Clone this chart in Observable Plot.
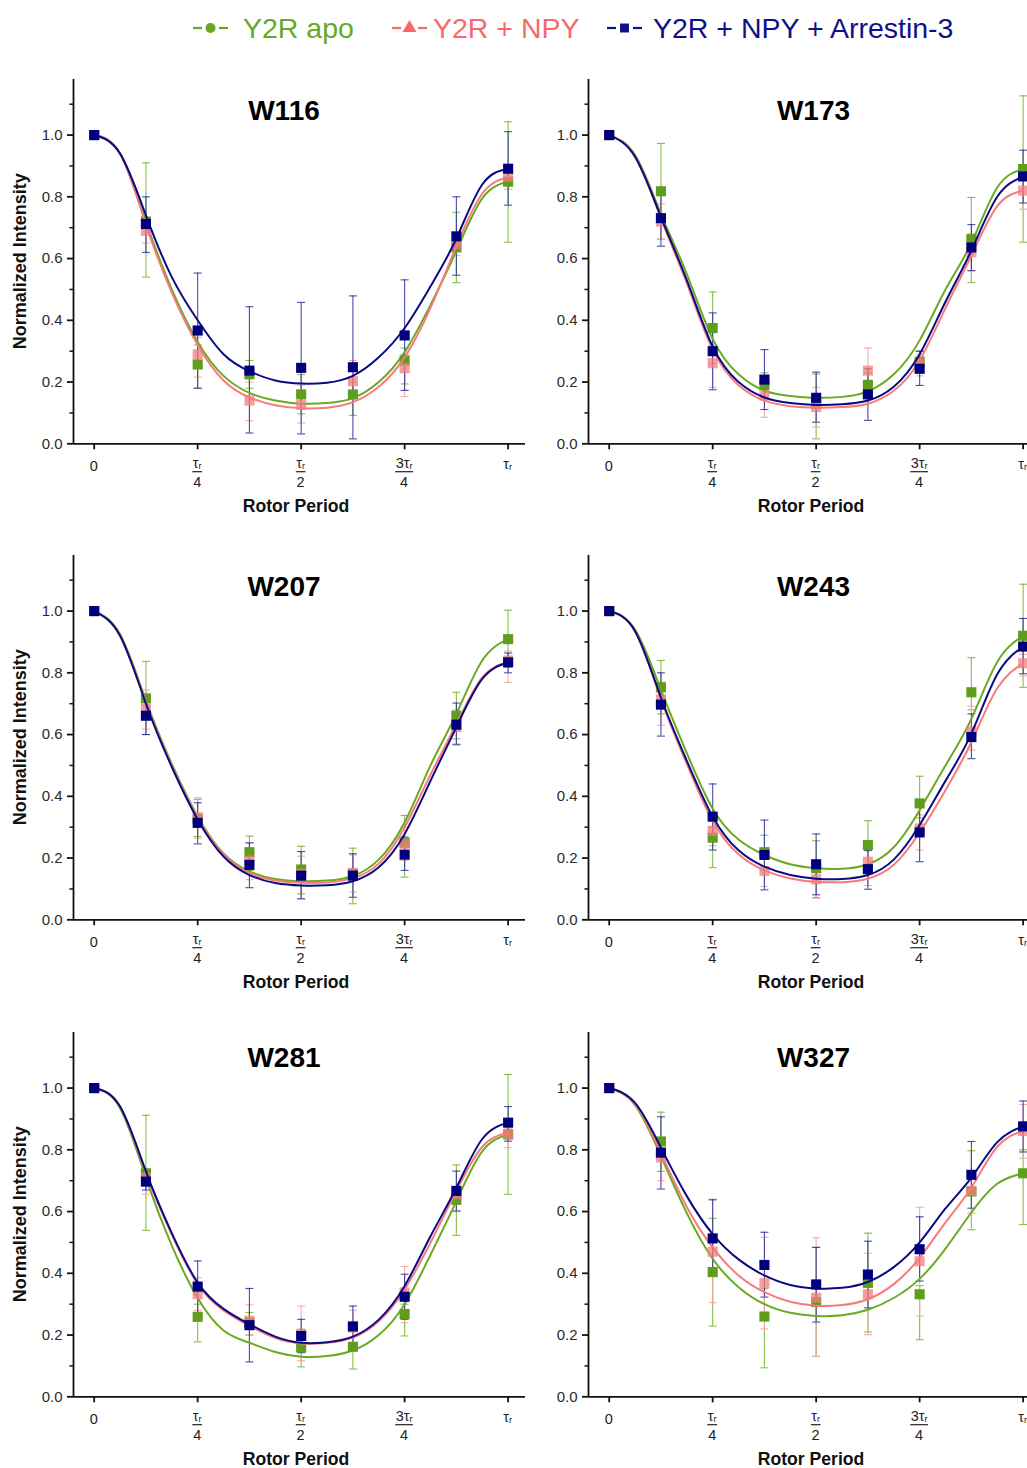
<!DOCTYPE html>
<html><head><meta charset="utf-8">
<script src="https://cdn.jsdelivr.net/npm/d3@7"></script>
<script src="https://cdn.jsdelivr.net/npm/@observablehq/plot@0.6"></script>
<style>
html,body{margin:0;padding:0;background:#fff}
body{width:1027px;height:1468px;overflow:hidden;position:relative;font-family:"Liberation Sans",Arial,sans-serif}
.panel{position:absolute}
#legend{position:absolute;left:0;top:0}
</style></head><body>
<div id="legend"></div>
<div id="chart"></div>
<script>
// ---------- shared categories / ticks ----------
const seriesNames = ["Y2R apo", "Y2R + NPY", "Y2R + NPY + Arrestin-3"];
const panelNames = ["W116", "W173", "W207", "W243", "W281", "W327"];
const xPts = [0, 0.125, 0.25, 0.375, 0.5, 0.625, 0.75, 0.875, 1];
const xFit = [0, 0.0625, 0.125, 0.1875, 0.25, 0.3125, 0.375, 0.4375, 0.5, 0.5625, 0.625, 0.6875, 0.75, 0.8125, 0.875, 0.9375, 1];
const xTicks = [0, 0.25, 0.5, 0.75, 1];
const xTickNum = ["0", "τr", "τr", "3τr", "τr"];
const xTickDen = ["", "4", "2", "4", ""];
const yMajor = [0, 0.2, 0.4, 0.6, 0.8, 1.0];
const yMinor = [0.1, 0.3, 0.5, 0.7, 0.9, 1.1];
const xLabel = "Rotor Period";
const yLabel = "Normalized Intensity";

// ---------- data: rows = [apo, +NPY, +NPY+Arrestin-3] ----------
const W116_val = [[1, 0.72, 0.257, 0.225, 0.16, 0.16, 0.27, 0.636, 0.849],
                  [1, 0.69, 0.29, 0.14, 0.126, 0.203, 0.245, 0.647, 0.865],
                  [1, 0.712, 0.367, 0.237, 0.246, 0.248, 0.351, 0.672, 0.891]];
const W116_hi  = [[1, 0.91, 0.32, 0.27, 0.224, 0.20, 0.31, 0.75, 1.043],
                  [1, 0.73, 0.345, 0.2, 0.19, 0.27, 0.29, 0.68, 0.895],
                  [1, 0.80, 0.553, 0.444, 0.458, 0.479, 0.531, 0.80, 1.011]];
const W116_lo  = [[1, 0.54, 0.18, 0.18, 0.097, 0.092, 0.194, 0.522, 0.653],
                  [1, 0.65, 0.216, 0.075, 0.067, 0.146, 0.153, 0.61, 0.825],
                  [1, 0.62, 0.18, 0.035, 0.032, 0.016, 0.173, 0.546, 0.773]];
const W116_fit = [[1, 0.94, 0.72, 0.50, 0.33, 0.22, 0.165, 0.14, 0.13, 0.132, 0.148, 0.2, 0.297, 0.45, 0.625, 0.795, 0.85],
                  [1, 0.94, 0.71, 0.49, 0.32, 0.205, 0.15, 0.125, 0.115, 0.117, 0.135, 0.185, 0.28, 0.44, 0.64, 0.81, 0.865],
                  [1, 0.94, 0.74, 0.54, 0.40, 0.29, 0.235, 0.205, 0.195, 0.198, 0.22, 0.28, 0.375, 0.51, 0.665, 0.84, 0.89]];

const W173_val = [[1, 0.818, 0.375, 0.19, 0.13, 0.191, 0.266, 0.663, 0.89],
                  [1, 0.72, 0.261, 0.156, 0.119, 0.237, 0.26, 0.62, 0.82],
                  [1, 0.731, 0.30, 0.208, 0.149, 0.16, 0.243, 0.636, 0.866]];
const W173_hi  = [[1, 0.973, 0.492, 0.23, 0.226, 0.23, 0.30, 0.798, 1.127],
                  [1, 0.777, 0.32, 0.2, 0.183, 0.31, 0.29, 0.68, 0.86],
                  [1, 0.825, 0.424, 0.305, 0.232, 0.243, 0.30, 0.71, 0.951]];
const W173_lo  = [[1, 0.663, 0.26, 0.15, 0.016, 0.15, 0.23, 0.522, 0.653],
                  [1, 0.663, 0.183, 0.086, 0.054, 0.167, 0.22, 0.56, 0.76],
                  [1, 0.64, 0.175, 0.111, 0.07, 0.076, 0.189, 0.561, 0.78]];
const W173_fit = [[1, 0.935, 0.745, 0.55, 0.34, 0.225, 0.172, 0.155, 0.149, 0.152, 0.17, 0.225, 0.335, 0.50, 0.65, 0.83, 0.89],
                  [1, 0.93, 0.73, 0.52, 0.305, 0.19, 0.14, 0.122, 0.117, 0.119, 0.13, 0.172, 0.27, 0.44, 0.61, 0.77, 0.82],
                  [1, 0.93, 0.735, 0.53, 0.315, 0.20, 0.15, 0.132, 0.126, 0.128, 0.14, 0.185, 0.29, 0.46, 0.626, 0.80, 0.866]];

const W207_val = [[1, 0.717, 0.327, 0.219, 0.163, 0.149, 0.25, 0.661, 0.909],
                  [1, 0.683, 0.332, 0.192, 0.149, 0.152, 0.246, 0.624, 0.84],
                  [1, 0.661, 0.314, 0.178, 0.143, 0.143, 0.211, 0.632, 0.834]];
const W207_hi  = [[1, 0.837, 0.39, 0.271, 0.238, 0.232, 0.338, 0.737, 1.003],
                  [1, 0.745, 0.395, 0.25, 0.206, 0.21, 0.30, 0.68, 0.87],
                  [1, 0.717, 0.379, 0.249, 0.221, 0.214, 0.268, 0.702, 0.864]];
const W207_lo  = [[1, 0.60, 0.27, 0.16, 0.084, 0.052, 0.138, 0.586, 0.818],
                  [1, 0.618, 0.264, 0.13, 0.068, 0.09, 0.192, 0.57, 0.769],
                  [1, 0.60, 0.246, 0.104, 0.068, 0.073, 0.16, 0.567, 0.80]];
const W207_fit = [[1, 0.925, 0.71, 0.505, 0.335, 0.215, 0.157, 0.132, 0.125, 0.127, 0.142, 0.195, 0.316, 0.50, 0.667, 0.84, 0.909],
                  [1, 0.92, 0.705, 0.50, 0.33, 0.212, 0.152, 0.127, 0.12, 0.121, 0.135, 0.182, 0.30, 0.47, 0.634, 0.785, 0.834],
                  [1, 0.92, 0.70, 0.495, 0.325, 0.205, 0.145, 0.119, 0.111, 0.112, 0.125, 0.17, 0.278, 0.45, 0.624, 0.78, 0.834]];

const W243_val = [[1, 0.753, 0.266, 0.219, 0.167, 0.242, 0.377, 0.737, 0.92],
                  [1, 0.714, 0.288, 0.158, 0.131, 0.188, 0.296, 0.611, 0.831],
                  [1, 0.697, 0.334, 0.21, 0.18, 0.164, 0.283, 0.592, 0.885]];
const W243_hi  = [[1, 0.84, 0.30, 0.274, 0.256, 0.321, 0.465, 0.849, 1.087],
                  [1, 0.77, 0.33, 0.2, 0.16, 0.23, 0.34, 0.692, 0.86],
                  [1, 0.80, 0.44, 0.323, 0.278, 0.224, 0.377, 0.667, 0.976]];
const W243_lo  = [[1, 0.667, 0.169, 0.16, 0.072, 0.17, 0.33, 0.68, 0.753],
                  [1, 0.63, 0.24, 0.108, 0.07, 0.111, 0.226, 0.55, 0.79],
                  [1, 0.595, 0.226, 0.097, 0.081, 0.099, 0.188, 0.522, 0.797]];
const W243_fit = [[1, 0.94, 0.745, 0.54, 0.36, 0.26, 0.21, 0.18, 0.167, 0.165, 0.18, 0.235, 0.355, 0.50, 0.651, 0.835, 0.92],
                  [1, 0.935, 0.715, 0.505, 0.32, 0.212, 0.16, 0.134, 0.123, 0.122, 0.133, 0.178, 0.283, 0.42, 0.576, 0.75, 0.831],
                  [1, 0.935, 0.72, 0.515, 0.334, 0.225, 0.172, 0.145, 0.133, 0.132, 0.145, 0.195, 0.307, 0.45, 0.603, 0.795, 0.885]];

const W281_val = [[1, 0.724, 0.259, 0.24, 0.16, 0.162, 0.268, 0.638, 0.85],
                  [1, 0.71, 0.332, 0.246, 0.203, 0.224, 0.338, 0.656, 0.85],
                  [1, 0.697, 0.357, 0.232, 0.197, 0.228, 0.324, 0.667, 0.888]];
const W281_hi  = [[1, 0.912, 0.30, 0.273, 0.219, 0.173, 0.30, 0.751, 1.044],
                  [1, 0.73, 0.386, 0.298, 0.294, 0.28, 0.422, 0.68, 0.87],
                  [1, 0.72, 0.44, 0.351, 0.251, 0.294, 0.397, 0.731, 0.94]];
const W281_lo  = [[1, 0.539, 0.178, 0.20, 0.097, 0.09, 0.197, 0.523, 0.656],
                  [1, 0.656, 0.28, 0.20, 0.117, 0.17, 0.24, 0.60, 0.807],
                  [1, 0.67, 0.273, 0.113, 0.143, 0.156, 0.251, 0.602, 0.828]];
const W281_fit = [[1, 0.935, 0.71, 0.49, 0.32, 0.215, 0.175, 0.145, 0.13, 0.132, 0.15, 0.2, 0.30, 0.46, 0.634, 0.795, 0.85],
                  [1, 0.94, 0.725, 0.525, 0.365, 0.28, 0.23, 0.19, 0.173, 0.175, 0.192, 0.245, 0.348, 0.50, 0.667, 0.81, 0.855],
                  [1, 0.94, 0.73, 0.53, 0.37, 0.285, 0.235, 0.195, 0.175, 0.177, 0.195, 0.25, 0.359, 0.52, 0.677, 0.835, 0.888]];

const W327_val = [[1, 0.827, 0.404, 0.26, 0.307, 0.369, 0.332, 0.665, 0.724],
                  [1, 0.775, 0.47, 0.368, 0.321, 0.332, 0.439, 0.667, 0.861],
                  [1, 0.791, 0.513, 0.427, 0.364, 0.396, 0.478, 0.719, 0.876]];
const W327_hi  = [[1, 0.922, 0.578, 0.35, 0.484, 0.53, 0.36, 0.797, 0.80],
                  [1, 0.84, 0.64, 0.517, 0.515, 0.465, 0.614, 0.72, 0.947],
                  [1, 0.907, 0.638, 0.533, 0.484, 0.504, 0.583, 0.827, 0.958]];
const W327_lo  = [[1, 0.73, 0.229, 0.094, 0.131, 0.21, 0.185, 0.541, 0.558],
                  [1, 0.70, 0.305, 0.22, 0.131, 0.201, 0.262, 0.595, 0.773],
                  [1, 0.673, 0.39, 0.323, 0.242, 0.288, 0.375, 0.611, 0.793]];
const W327_fit = [[1, 0.945, 0.78, 0.595, 0.447, 0.355, 0.30, 0.272, 0.262, 0.264, 0.282, 0.32, 0.382, 0.48, 0.597, 0.69, 0.724],
                  [1, 0.948, 0.79, 0.615, 0.484, 0.393, 0.339, 0.308, 0.295, 0.297, 0.316, 0.365, 0.45, 0.565, 0.678, 0.81, 0.861],
                  [1, 0.952, 0.807, 0.65, 0.527, 0.445, 0.393, 0.362, 0.351, 0.353, 0.372, 0.42, 0.50, 0.61, 0.71, 0.825, 0.876]];

const panelData = {
  W116: [W116_val, W116_hi, W116_lo, W116_fit],
  W173: [W173_val, W173_hi, W173_lo, W173_fit],
  W207: [W207_val, W207_hi, W207_lo, W207_fit],
  W243: [W243_val, W243_hi, W243_lo, W243_fit],
  W281: [W281_val, W281_hi, W281_lo, W281_fit],
  W327: [W327_val, W327_hi, W327_lo, W327_fit]
};

// ---------- styling ----------
const FONT = '"Liberation Sans", Arial, Helvetica, sans-serif';
const lineColor = ["#6aaa22", "#f87a7a", "#0a0a85"];
const pointColor = ["#5e9e1c", "#f47c7c", "#00007f"];
const pointOpacity = [1, 0.75, 1];
const errColor = ["#7ab834", "#f6a2a2", "#2c2c9c"];
const errOpacity = [0.9, 0.9, 0.85];
const legendText = ["#66a823", "#f86a6a", "#10108a"];

const PW = 540, PH = 476;
const colLeft = [0, 514.7];
const rowTop = [60, 536.3, 1012.7];
const titleX = [284, 298.5];
const titleY = [60, 59.5, 53.5];   // baseline, relative to panel top
const xDomain = [-0.05, 1.042];
const yDomain = [0, 1.18];

const capSym = {draw(ctx) { ctx.moveTo(-4, 0); ctx.lineTo(4, 0); }};

function scaleFn(s) {
  if (s && typeof s.apply === "function") return v => s.apply(v);
  return d3.scaleLinear(s.domain, s.range);
}

function drawPanel(name, idx) {
  const col = idx % 2, row = Math.floor(idx / 2);
  const [vals, his, los, fits] = panelData[name];
  const pts = [], fitRows = [];
  seriesNames.forEach((s, si) => {
    xPts.forEach((x, i) => pts.push({x, v: vals[si][i], hi: his[si][i], lo: los[si][i], s: si}));
    xFit.forEach((x, i) => fitRows.push({x, v: fits[si][i], s: si}));
  });
  const marks = [
    Plot.axisY({ticks: yMinor, tickSize: 3.5, tickFormat: () => "", label: null, strokeWidth: 1.5, stroke: "#111"}),
    Plot.axisY({ticks: yMajor, tickSize: 6, tickPadding: 5, tickFormat: d3.format(".1f"), label: null,
                strokeWidth: 1.8, stroke: "#111", fill: "#2a2a2a", fontSize: 15}),
    Plot.axisX({ticks: xTicks, tickSize: 6, tickFormat: () => "", label: null, strokeWidth: 1.8, stroke: "#111"}),
    Plot.ruleY([0], {stroke: "#111", strokeWidth: 1.8}),
    Plot.ruleX([xDomain[0]], {stroke: "#111", strokeWidth: 1.8})
  ];
  seriesNames.forEach((s, si) => {
    const P = pts.filter(d => d.s === si && d.x > 0);
    marks.push(Plot.ruleX(P, {x: "x", y1: "lo", y2: "hi", stroke: errColor[si], strokeOpacity: errOpacity[si], strokeWidth: 1.1}));
    marks.push(Plot.dot(P, {x: "x", y: "hi", symbol: capSym, r: 4, stroke: errColor[si], strokeOpacity: errOpacity[si], strokeWidth: 1.1, fill: "none"}));
    marks.push(Plot.dot(P, {x: "x", y: "lo", symbol: capSym, r: 4, stroke: errColor[si], strokeOpacity: errOpacity[si], strokeWidth: 1.1, fill: "none"}));
  });
  seriesNames.forEach((s, si) => {
    marks.push(Plot.line(fitRows.filter(d => d.s === si), {x: "x", y: "v", stroke: lineColor[si], strokeWidth: 2, curve: "natural"}));
    marks.push(Plot.dot(pts.filter(d => d.s === si), {x: "x", y: "v", symbol: "square", r: 5.7, fill: pointColor[si], fillOpacity: pointOpacity[si]}));
  });

  const svg = Plot.plot({
    width: PW, height: PH,
    marginLeft: 73, marginRight: 15, marginTop: 19, marginBottom: 92.7,
    x: {domain: xDomain},
    y: {domain: yDomain},
    style: {fontFamily: FONT, fontSize: "15px", background: "transparent", maxWidth: "none", overflow: "visible", color: "#111"},
    marks
  });
  const div = document.createElement("div");
  div.className = "panel";
  div.style.left = colLeft[col] + "px";
  div.style.top = rowTop[row] + "px";
  div.appendChild(svg);
  document.getElementById("chart").appendChild(div);

  const sx = scaleFn(svg.scale("x"));
  const sy = scaleFn(svg.scale("y"));
  const y0 = sy(0);
  const g = d3.select(svg).append("g").attr("font-family", FONT).attr("fill", "#222");

  function addTau(sel, str) {
    const k = str.indexOf("τr");
    if (k < 0) { sel.text(str); return; }
    const pre = str.slice(0, k);
    if (pre) sel.append("tspan").text(pre);
    sel.append("tspan").text("τ");
    sel.append("tspan").attr("font-size", "0.62em").attr("dy", "0.35em").text("r");
  }

  xTicks.forEach((t, i) => {
    const x = sx(t);
    if (xTickDen[i] === "") {
      const single = g.append("text").attr("x", x).attr("y", y0 + (xTickNum[i] === "0" ? 22.4 : 20.5))
        .attr("text-anchor", "middle").attr("dominant-baseline", "central")
        .attr("font-size", 14.5);
      addTau(single, xTickNum[i]);
    } else {
      const num = g.append("text").attr("x", x).attr("y", y0 + 19.2)
        .attr("text-anchor", "middle").attr("dominant-baseline", "central").attr("font-size", 14.5);
      addTau(num, xTickNum[i]);
      const w = num.node().getComputedTextLength();
      g.append("line").attr("x1", x - w / 2 - 0.5).attr("x2", x + w / 2 + 0.5)
        .attr("y1", y0 + 28.4).attr("y2", y0 + 28.4).attr("stroke", "#222").attr("stroke-width", 1.2);
      g.append("text").attr("x", x).attr("y", y0 + 38.2)
        .attr("text-anchor", "middle").attr("dominant-baseline", "central").attr("font-size", 14.5)
        .text(xTickDen[i]);
    }
  });

  // x axis title
  g.append("text").attr("x", 296).attr("y", y0 + 68.5).attr("text-anchor", "middle")
    .attr("font-size", 17.6).attr("font-weight", "bold").attr("fill", "#111").text(xLabel);
  // panel title
  g.append("text").attr("x", titleX[col]).attr("y", titleY[row]).attr("text-anchor", "middle")
    .attr("font-size", 28).attr("font-weight", "bold").attr("fill", "#000").text(name);
  // y axis title (left column only)
  if (col === 0) {
    const yc = (sy(yDomain[1]) + y0) / 2;
    g.append("text").attr("transform", `translate(20,${yc}) rotate(-90)`)
      .attr("text-anchor", "middle").attr("dominant-baseline", "central")
      .attr("font-size", 18).attr("font-weight", "bold").attr("fill", "#111").text(yLabel);
  }
}

panelNames.forEach(drawPanel);

// ---------- legend ----------
(function legend() {
  const svg = d3.select("#legend").append("svg").attr("width", 1027).attr("height", 60)
    .attr("font-family", FONT);
  const items = [
    {x: 193, tx: 243, sym: "circle"},
    {x: 392, tx: 433, sym: "triangle"},
    {x: 607, tx: 653, sym: "square"}
  ];
  const cy = 28;
  items.forEach((it, i) => {
    const c = legendText[i];
    const g = svg.append("g");
    g.append("line").attr("x1", it.x).attr("x2", it.x + 9).attr("y1", cy).attr("y2", cy).attr("stroke", c).attr("stroke-width", 2.2);
    g.append("line").attr("x1", it.x + 26).attr("x2", it.x + 35).attr("y1", cy).attr("y2", cy).attr("stroke", c).attr("stroke-width", 2.2);
    const sym = it.sym === "circle" ? d3.symbolCircle : it.sym === "triangle" ? d3.symbolTriangle : d3.symbolSquare;
    g.append("path").attr("d", d3.symbol(sym, it.sym === "triangle" ? 85 : 80)()).attr("transform", `translate(${it.x + 17.5},${cy})`).attr("fill", c);
    g.append("text").attr("x", it.tx).attr("y", cy + 10).attr("font-size", 28.5).attr("fill", c).text(seriesNames[i]);
  });
})();
</script></body></html>
